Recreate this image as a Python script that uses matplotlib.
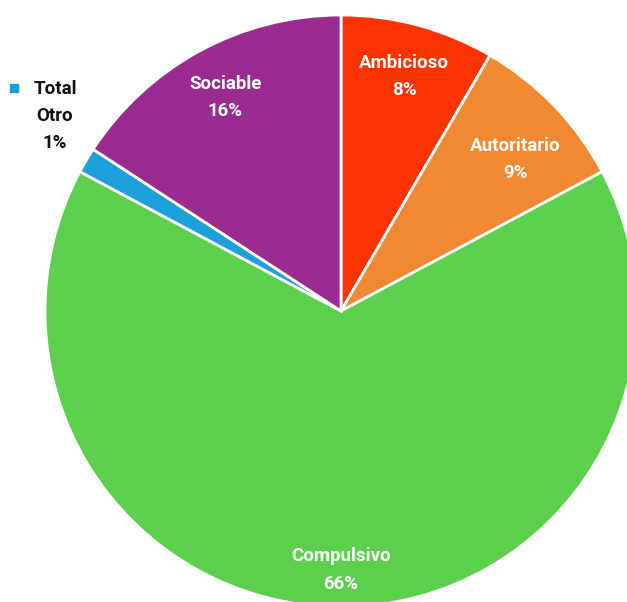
import numpy as np
import matplotlib
matplotlib.use("Agg")
import matplotlib.pyplot as plt

# Category shares (percent), clockwise from the top
categories = ["Ambicioso", "Autoritario", "Compulsivo", "Total Otro", "Sociable"]
values = [8.4, 8.8, 65.6, 1.4, 15.8]
colors = ["#FA3300", "#F08932", "#5CD04C", "#1CA0DC", "#9B2B91"]

W, H = 627, 602
fig = plt.figure(figsize=(W / 100, H / 100), dpi=100)
ax = fig.add_axes([0, 0, 1, 1])

cx, cy, r = 341, H - 311, 296
wedges, _ = ax.pie(values, colors=colors, startangle=90, counterclock=False,
                   center=(cx, cy), radius=r, frame=True,
                   wedgeprops=dict(edgecolor="white", linewidth=2.0))
ax.set_xlim(0, W)
ax.set_ylim(0, H)
ax.set_aspect("equal")
ax.axis("off")

font = dict(family=["Roboto", "DejaVu Sans"], fontweight="bold", fontsize=13.5)
# radial distance (fraction of radius) and angular nudge (degrees) for each inside label
label_pos = {"Ambicioso": (0.82, 0.0), "Autoritario": (0.78, -3.0),
             "Compulsivo": (0.875, 0.0), "Sociable": (0.82, 0.0)}

for w, name, v in zip(wedges, categories, values):
    if name not in label_pos:
        continue
    frac, nudge = label_pos[name]
    mid = np.deg2rad((w.theta1 + w.theta2) / 2 + nudge)
    d = frac * r
    x, y = cx + d * np.cos(mid), cy + d * np.sin(mid)
    ax.text(x, y, f"{name}\n{v:.0f}%", color="white", ha="center", va="center",
            linespacing=1.65, **font)

# Small slice labelled outside with a colour marker
i = categories.index("Total Otro")
ax.scatter([14], [H - 88], marker="s", s=32, color=colors[i], zorder=5)
ax.text(55, H - 116, "Total\nOtro\n" + f"{values[i]:.0f}%", color="#111111",
        ha="center", va="center", linespacing=1.65, **font)

fig.savefig("out.png", dpi=100, facecolor="white")
